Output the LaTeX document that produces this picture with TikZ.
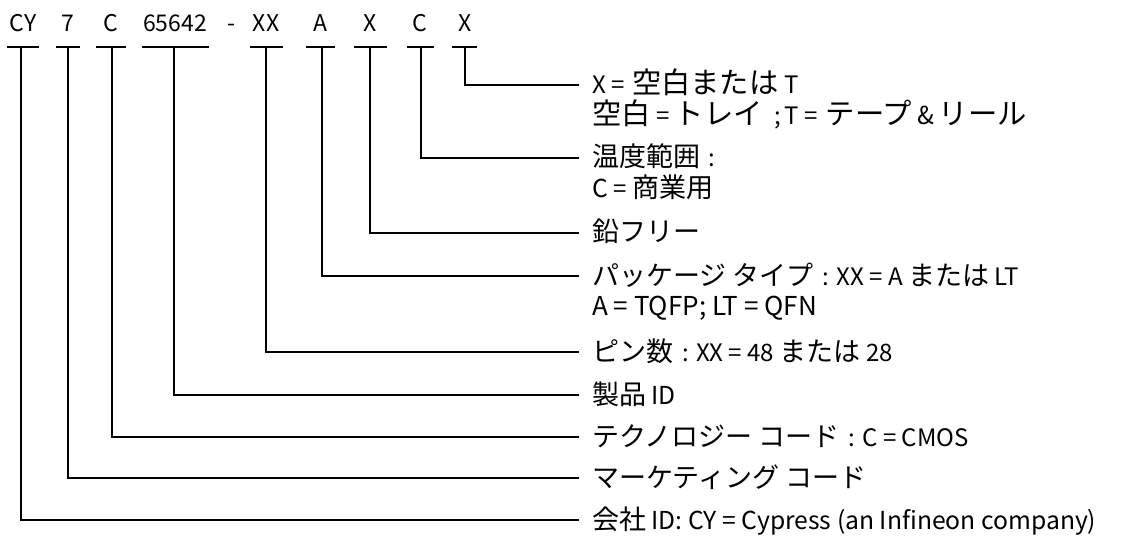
\documentclass[tikz,border=0pt]{standalone}
\usepackage{fontspec}
\setmainfont{Noto Sans CJK JP}
\newcommand\sm{\fontsize{24}{28}\selectfont}
\newcommand\md{\fontsize{24.7}{28}\selectfont}
\newcommand\mdb{\fontsize{26}{30}\selectfont}
\newcommand\lgsz{\fontsize{29.3}{33}\selectfont}
\newcommand\hs[1]{\hspace{#1pt}}
\begin{document}
\begin{tikzpicture}[x=1pt,y=-1pt,
  top/.style={anchor=base,inner sep=0pt,font=\fontsize{23}{26}\selectfont},
  lab/.style={anchor=base west,inner sep=0pt,font=\fontsize{27}{31}\selectfont},
  conn/.style={line width=1.8pt,line cap=rect},
  bar/.style={line width=1.8pt}]
\useasboundingbox (0,0) rectangle (1133,540);
% top part number
\node[top] (tCY) at (23,32) {CY};
\node[top] (t7) at (68,32) {7};
\node[top] (tC1) at (111,32) {C};
\node[top] (tN) at (175,32) {65642};
\node[top] (tD) at (231,32) {-};
\node[top] (tXX) at (266,32) {XX};
\node[top] (tA) at (320,32) {A};
\node[top] (tX1) at (370,32) {X};
\node[top] (tC2) at (420,32) {C};
\node[top] (tX2) at (465,32) {X};
% underline bars
\draw[bar] (7,47) -- (39,47);
\draw[bar] (56,47) -- (80,47);
\draw[bar] (96,47) -- (126,47);
\draw[bar] (142,47) -- (209,47);
\draw[bar] (250,47) -- (283,47);
\draw[bar] (306,47) -- (335,47);
\draw[bar] (354,47) -- (387,47);
\draw[bar] (407,47) -- (434,47);
\draw[bar] (452,47) -- (477,47);
\coordinate (bCY) at (21,47);
\coordinate (b7) at (68,47);
\coordinate (bC1) at (112,47);
\coordinate (bN) at (174,47);
\coordinate (bXX) at (266,47);
\coordinate (bA) at (322,47);
\coordinate (bX1) at (370,47);
\coordinate (bC2) at (421,47);
\coordinate (bX2) at (465,47);
% connector ends
\coordinate (e1) at (578,85);
\coordinate (e2) at (578,158);
\coordinate (e3) at (578,233);
\coordinate (e4) at (578,276);
\coordinate (e5) at (578,352);
\coordinate (e6) at (578,395);
\coordinate (e7) at (578,437);
\coordinate (e8) at (578,478);
\coordinate (e9) at (578,520);
% labels
\node[lab] (l1) at ([xshift=14pt,yshift=-9pt]e1) {\lgsz{\sm X = \hs{2}}空白または{\sm\hs{6}T}};
\node[lab] (l1b) at ([yshift=-31pt]l1.base west) {\lgsz 空白{\sm{} = }トレイ{\sm\hs{12};\hs{3}T = \hs{3}}テープ{\md\hs{5}\&\hs{5}}リール};
\node[lab] (l2) at ([xshift=14pt,yshift=-9pt]e2) {温度範囲{\sm\hs{8}:}};
\node[lab] (l2b) at ([yshift=-31pt]l2.base west) {{\md C}{\sm{} = }商業用};
\node[lab] (l3) at ([xshift=14pt,yshift=-9pt]e3) {鉛フリー};
\node[lab] (l4) at ([xshift=14pt,yshift=-9pt]e4) {パッケージ タイプ{\sm\hs{9}: XX = A }または{\sm{} LT}};
\node[lab] (l4b) at ([yshift=-31pt]l4.base west) {\mdb A = TQFP; LT = QFN};
\node[lab] (l5) at ([xshift=14pt,yshift=-9pt]e5) {ピン数{\sm\hs{9}: XX = 48 }または{\sm{} 28}};
\node[lab] (l6) at ([xshift=14pt,yshift=-9pt]e6) {製品{\md{} ID}};
\node[lab] (l7) at ([xshift=14pt,yshift=-9pt]e7) {テクノロジー コード{\sm\hs{9}: C = CMOS}};
\node[lab] (l8) at ([xshift=14pt,yshift=-9pt]e8) {マーケティング コード};
\node[lab] (l9) at ([xshift=14pt,yshift=-9pt]e9) {会社{\md{} ID: CY = Cypress (an Infineon company)}};
% connectors
\draw[conn] (bX2) |- (e1);
\draw[conn] (bC2) |- (e2);
\draw[conn] (bX1) |- (e3);
\draw[conn] (bA) |- (e4);
\draw[conn] (bXX) |- (e5);
\draw[conn] (bN) |- (e6);
\draw[conn] (bC1) |- (e7);
\draw[conn] (b7) |- (e8);
\draw[conn] (bCY) |- (e9);
\end{tikzpicture}
\end{document}
